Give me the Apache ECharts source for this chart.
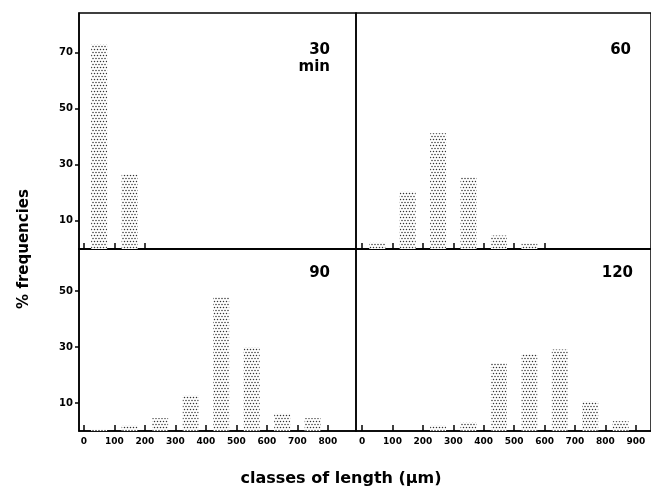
<!DOCTYPE html>
<html>
<head>
<meta charset="utf-8">
<script src="https://cdn.jsdelivr.net/npm/echarts@6/dist/echarts.min.js"></script>
<style>
html,body{margin:0;padding:0;background:#fff;}
#chart{width:651px;height:491px;}
</style>
</head>
<body>
<div id="chart"></div>
<script>
// ---- data ----
const classCenters = [50, 150, 250, 350, 450, 550, 650, 750, 850];
const freq30  = [73, 26.5];
const freq60  = [2.3, 20.5, 41.2, 25.5, 4.8, 2];
const freq90  = [0.5, 2, 4.6, 12.7, 47.9, 30, 6.2, 4.6];
const freq120 = [0, 0, 2, 3.2, 24.3, 27.4, 29.1, 10.6, 3.5];
const panelLabels = ['30\nmin', '60', '90', '120'];
const xTicks30  = [0, 100, 200];
const xTicks60  = [0, 100, 200, 300, 400, 500, 600];
const xTicks90  = [0, 100, 200, 300, 400, 500, 600, 700, 800];
const xTicks120 = [0, 100, 200, 300, 400, 500, 600, 700, 800, 900];
const yTicksTop = [10, 30, 50, 70];
const yTicksBottom = [10, 30, 50];
const yTitle = '% frequencies';
const xTitle = 'classes of length (µm)';

// ---- stipple pattern ----
function makePattern() {
  const c = document.createElement('canvas');
  c.width = 6; c.height = 6;
  const g = c.getContext('2d');
  g.fillStyle = '#fff';
  g.fillRect(0, 0, 6, 6);
  g.fillStyle = '#333';
  const pts = [[1.5,1.5],[4.5,1.5],[3,4.5],[0,4.5],[6,4.5]];
  pts.forEach(p => { g.beginPath(); g.arc(p[0], p[1], 0.75, 0, Math.PI*2); g.fill(); });
  return c;
}
const pattern = { image: makePattern(), repeat: 'repeat' };

const font = 'DejaVu Sans';
const grids = [
  { left: 79,  top: 13,  width: 277, height: 236 },
  { left: 356, top: 13,  width: 296, height: 236 },
  { left: 79,  top: 249, width: 277, height: 182 },
  { left: 356, top: 249, width: 296, height: 182 }
].map(g => Object.assign({ show: true, borderColor: '#000', borderWidth: 1.5, backgroundColor: 'transparent' }, g));

function xAxis(gi, ticks, min, max, showLabels) {
  return {
    type: 'value', gridIndex: gi, min: min, max: max,
    splitLine: { show: false },
    axisLine: { show: true, onZero: false, lineStyle: { color: '#000', width: 1.5 } },
    axisTick: { show: true, inside: true, length: 6, customValues: ticks, lineStyle: { color: '#000', width: 1.5 } },
    axisLabel: { show: showLabels, customValues: ticks, margin: 6, color: '#000', fontFamily: font, fontWeight: 'bold', fontSize: 9 }
  };
}
function yAxis(gi, max, ticks, show) {
  return {
    type: 'value', gridIndex: gi, min: 0, max: max,
    splitLine: { show: false },
    axisLine: { show: show, onZero: false, lineStyle: { color: '#000', width: 1.5 } },
    axisTick: { show: show, length: 4, customValues: ticks, lineStyle: { color: '#000', width: 1.5 } },
    axisLabel: { show: show, customValues: ticks, margin: 6, color: '#000', fontFamily: font, fontWeight: 'bold', fontSize: 10 }
  };
}
function barSeries(idx, arr) {
  return {
    type: 'bar', xAxisIndex: idx, yAxisIndex: idx, barWidth: 16,
    data: arr.map((v, i) => [classCenters[i], v]),
    itemStyle: { color: pattern, borderWidth: 0 },
    silent: true, animation: false
  };
}

function panelText(x, y, text) {
  return { type: 'text', x: x, y: y,
    style: { text: text, fill: '#000', font: 'bold 15px "DejaVu Sans"', lineHeight: 17, textAlign: 'right', textVerticalAlign: 'top' } };
}

const option = {
  animation: false,
  backgroundColor: '#fff',
  grid: grids,
  xAxis: [
    xAxis(0, xTicks30, -16, 892, false),
    xAxis(1, xTicks60, -20, 950, false),
    xAxis(2, xTicks90, -16, 892, true),
    xAxis(3, xTicks120, -20, 950, true)
  ],
  yAxis: [
    yAxis(0, 84, yTicksTop, true),
    yAxis(1, 84, yTicksTop, false),
    yAxis(2, 65, yTicksBottom, true),
    yAxis(3, 65, yTicksBottom, false)
  ],
  series: [
    barSeries(0, freq30),
    barSeries(1, freq60),
    barSeries(2, freq90),
    barSeries(3, freq120)
  ],
  graphic: [
    panelText(330, 42, panelLabels[0]),
    panelText(631, 42, panelLabels[1]),
    panelText(330, 265, panelLabels[2]),
    panelText(633, 265, panelLabels[3]),
    { type: 'text', x: 24, y: 249, rotation: Math.PI / 2,
      style: { text: yTitle, fill: '#000', font: 'bold 15px "DejaVu Sans"', textAlign: 'center', textVerticalAlign: 'middle' } },
    { type: 'text', x: 341, y: 479,
      style: { text: xTitle, fill: '#000', font: 'bold 16px "DejaVu Sans"', textAlign: 'center', textVerticalAlign: 'middle' } }
  ]
};

const chart = echarts.init(document.getElementById('chart'), null, { renderer: 'canvas' });
chart.setOption(option);
</script>
</body>
</html>
